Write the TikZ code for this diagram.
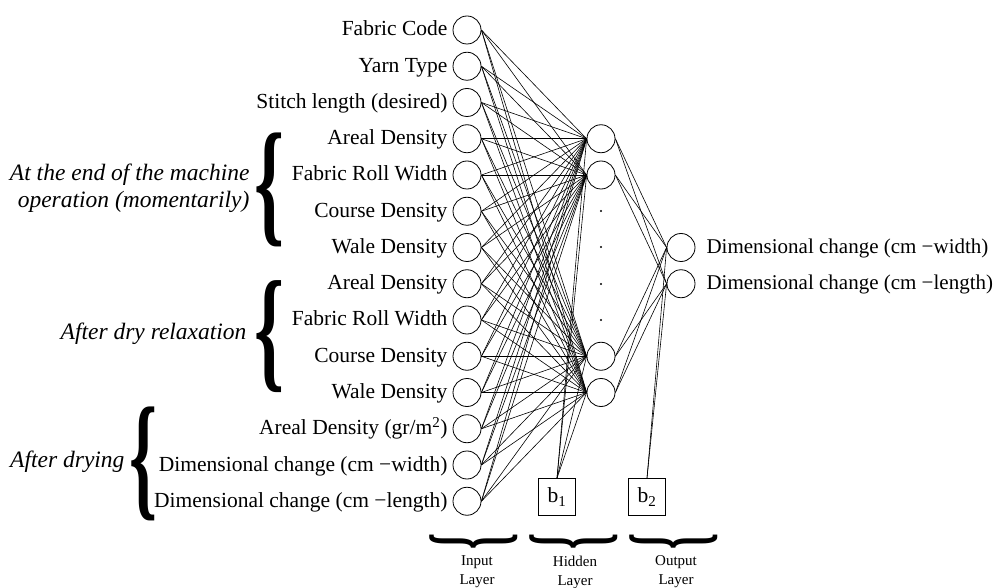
\documentclass[tikz,border=0pt]{standalone}
\usepackage{fontspec}
\setmainfont{Liberation Serif}
\usepackage{graphicx}
\newcommand\mybrace[2]{\resizebox*{#1}{#2}{\bfseries\{}}
\begin{document}
\begin{tikzpicture}[x=1pt,y=-1pt,
  every node/.style={font=\fontsize{21.5}{24}\selectfont},
  neuron/.style={draw, circle, minimum size=28pt, inner sep=0pt, line width=0.8pt, fill=white},
  conn/.style={line width=0.6pt},
  biasbox/.style={draw, minimum size=37pt, inner sep=0pt, line width=0.8pt},
  lab/.style={anchor=base east},
  grp/.style={font=\fontsize{23.5}{27}\selectfont\itshape, align=right, anchor=east},
  layerlab/.style={font=\fontsize{15}{19}\selectfont, align=center}]
\useasboundingbox (0,0) rectangle (994,588);
% input layer
\foreach \t [count=\k] in {Fabric Code, Yarn Type, Stitch length (desired), Areal Density, Fabric Roll Width, Course Density, Wale Density, Areal Density, Fabric Roll Width, Course Density, Wale Density, Areal Density (gr/m\textsuperscript{2}), Dimensional change (cm −width), Dimensional change (cm −length)} {
  \node[neuron] (i\k) at (467, {30+36.25*(\k-1)}) {};
  \node[lab] (l\k) at (451, {36+36.25*(\k-1)}) {\t};
}
% hidden layer
\node[neuron] (h1) at (601,138.75) {};
\node[neuron] (h2) at (601,175) {};
\node[neuron] (h3) at (601,356.25) {};
\node[neuron] (h4) at (601,392.5) {};
\foreach \yy [count=\k] in {211,247,284,320} \fill (601,\yy) circle (1.2pt) coordinate (d\k);
% output layer
\node[neuron] (o1) at (681,247.5) {};
\node[neuron] (o2) at (681,283.75) {};
\node[anchor=base west, font=\fontsize{21}{24}\selectfont] (ol1) at (703,253.5) {Dimensional change (cm −width)};
\node[anchor=base west, font=\fontsize{21}{24}\selectfont] (ol2) at (703,289.75) {Dimensional change (cm −length)};
% bias
\node[biasbox] (b1) at (557,497) {b\textsubscript{1}};
\node[biasbox] (b2) at (647,497) {b\textsubscript{2}};
% connections
\foreach \i in {1,...,14} \foreach \h in {1,...,4} \draw[conn] (i\i.east) -- (h\h.west);
\foreach \h in {1,...,4} \draw[conn] (b1.north) -- (h\h.west);
\foreach \h in {1,...,4} \foreach \o in {1,2} \draw[conn] (h\h.east) -- (o\o.west);
\foreach \o in {1,2} \draw[conn] (b2.north) -- (o\o.west);
% group braces and labels
\node (gb1) at (270,190) {\mybrace{30pt}{114pt}};
\node (gb2) at (270,337) {\mybrace{30pt}{112pt}};
\node (gb3) at (144,464) {\mybrace{28pt}{114pt}};
\node[grp] (g1) at (253,188) {At the end of the machine\\operation (momentarily)};
\node[grp] (g2) at (250,334) {After dry relaxation};
\node[grp] (g3) at (128,462) {After drying};
% layer braces
\node[rotate=90] (lb1) at (474,541) {\mybrace{16pt}{88pt}};
\node[rotate=90] (lb2) at (574,541) {\mybrace{16pt}{88pt}};
\node[rotate=90] (lb3) at (674,541) {\mybrace{16pt}{88pt}};
\node[layerlab] (ll1) at (477,572) {Input\\Layer};
\node[layerlab] (ll2) at (575,572) {Hidden\\Layer};
\node[layerlab] (ll3) at (676,572) {Output\\Layer};
\end{tikzpicture}
\end{document}
